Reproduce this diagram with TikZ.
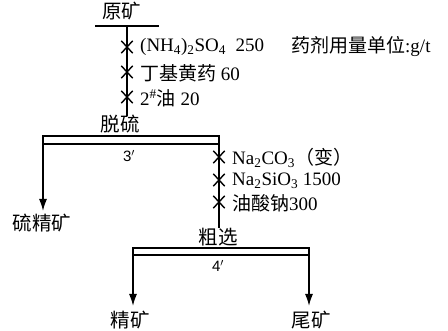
\documentclass[tikz,border=0pt]{standalone}
\usepackage{fontspec}
\setmainfont{Liberation Serif}
\newfontfamily\cjk{Noto Sans CJK SC}
\newfontfamily\arialf{Liberation Sans}
\usetikzlibrary{arrows.meta,shapes.misc}
\begin{document}
\begin{tikzpicture}[x=1pt,y=-1pt,
  lbl/.style={inner sep=0pt,anchor=west,font=\fontsize{19}{19}\selectfont},
  zh/.style={inner sep=0pt,font=\fontsize{19.5}{19.5}\selectfont\cjk},
  num/.style={inner sep=0pt,font=\fontsize{15}{15}\selectfont\arialf},
  bar/.style={line width=2.4pt},
  thinbar/.style={line width=1.2pt},
  vline/.style={line width=1.5pt},
  arr/.style={line width=1.5pt,-{Latex[length=12pt,width=8pt]}},
  xmark/.style={draw,cross out,line width=1.4pt,minimum width=10pt,minimum height=11pt,inner sep=0pt}]
\useasboundingbox (0,0) rectangle (448,331);
% ---- top: feed
\node[zh] (yk) at (122,11) {原矿};
\coordinate (b1l) at (95,26); \coordinate (b1r) at (159,26);
\draw[bar] (b1l) -- (b1r);
\coordinate (v1t) at (127,26);
\coordinate (v1b) at (127,116);
\draw[vline] (v1t) -- (v1b);
\node[xmark] (x1) at (127,47) {};
\node[xmark] (x2) at (127,72) {};
\node[xmark] (x3) at (127,97) {};
\node[lbl] (r1) at (140,47) {(NH\textsubscript{4})\textsubscript{2}SO\textsubscript{4}\ \ 250};
\node[lbl] (r2) at (140,73) {{\cjk 丁基黄药} 60};
\node[lbl] (r3) at (140,98) {2\textsuperscript{\#}{\cjk 油} 20};
\node[lbl] (unit) at (291,47) {{\cjk 药剂用量单位}:g/t};
% ---- desulfurization
\node[zh] (tl) at (120,124) {脱硫};
\coordinate (b2l) at (43,136); \coordinate (b2r) at (219,136);
\coordinate (b2lt) at (42,136); \coordinate (b2rt) at (220,136);
\coordinate (b2l2) at (43,144); \coordinate (b2r2) at (219,144);
\draw[bar] (b2lt) -- (b2rt);
\draw[thinbar] (b2l2) -- (b2r2);
\node[num] (n3) at (129,156) {3$'$};
\coordinate (a1) at (43,211);
\draw[arr] (b2l) -- (a1);
\node[zh] (ljk) at (42,223) {硫精矿};
\node[zh] (cx) at (218,237) {粗选};
\draw[vline] (b2r) -- (cx.north -| b2r);
\node[xmark] (x4) at (219,157) {};
\node[xmark] (x5) at (219,180) {};
\node[xmark] (x6) at (219,202) {};
\node[lbl] (r4) at (232,158) {Na\textsubscript{2}CO\textsubscript{3}{\cjk （变）}};
\node[lbl] (r5) at (232,181) {Na\textsubscript{2}SiO\textsubscript{3} 1500};
\node[lbl] (r6) at (232,203) {{\cjk 油酸钠}300};
% ---- rougher
\coordinate (b3l) at (133,248); \coordinate (b3r) at (309,248);
\coordinate (b3lt) at (132,248); \coordinate (b3rt) at (310,248);
\coordinate (b3l2) at (133,255); \coordinate (b3r2) at (309,255);
\draw[bar] (b3lt) -- (b3rt);
\draw[thinbar] (b3l2) -- (b3r2);
\node[num] (n4) at (218,266) {4$'$};
\coordinate (a2) at (133,306);
\coordinate (a3) at (309,306);
\draw[arr] (b3l) -- (a2);
\draw[arr] (b3r) -- (a3);
\node[zh] (jk) at (130,320) {精矿};
\node[zh] (wk) at (311,320) {尾矿};
\end{tikzpicture}
\end{document}
